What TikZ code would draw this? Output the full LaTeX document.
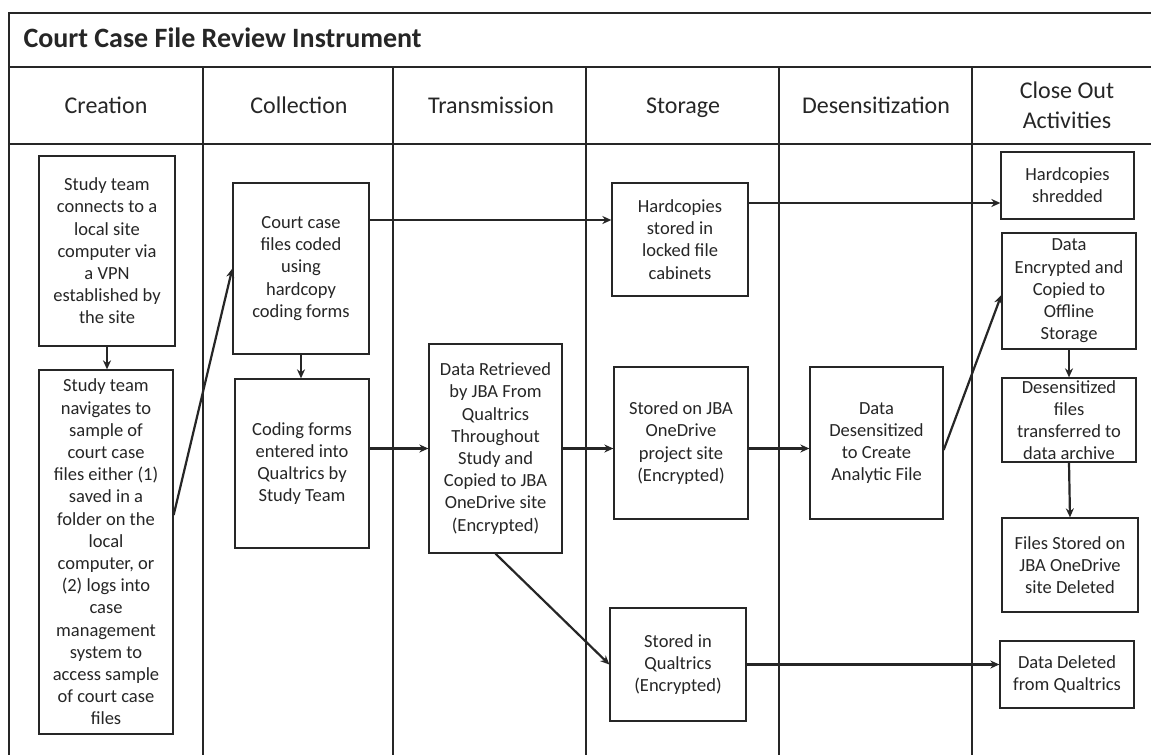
\documentclass[tikz,border=0pt]{standalone}
\usepackage{fontspec}
\setmainfont{Carlito}
\usetikzlibrary{arrows.meta,calc}
\begin{document}
\begin{tikzpicture}[x=1pt,y=-1pt,
  frame/.style={line width=1.4pt, black!85},
  box/.style={draw, line width=1.3pt, black!85, align=center, inner sep=0pt, font=\fontsize{18.5}{22.2}\selectfont},
  hdr/.style={align=center, anchor=base, text=black!85, font=\fontsize{24}{29.5}\selectfont},
  flow/.style={line width=2.2pt, black!85, -{Stealth[length=9pt,width=8pt]}}]
\useasboundingbox[fill=white] (0,0) rectangle (1151,755);

% table frame
\draw[frame] (1151,13) -- (9,13) -- (9,755);
\draw[frame] (9,67) -- (1151,67);
\draw[frame] (9,144) -- (1151,144);
\foreach \x in {203,393,586,779,972} \draw[frame] (\x,67) -- (\x,755);

% title and headers
\node[anchor=base west, text=black!85, font=\fontsize{28}{32}\selectfont\bfseries] (title) at (20,47) {Court Case File Review Instrument};
\node[hdr] (h1) at (106,113) {Creation};
\node[hdr] (h2) at (299,113) {Collection};
\node[hdr] (h3) at (491,113) {Transmission};
\node[hdr] (h4) at (683,113) {Storage};
\node[hdr] (h5) at (876,113) {Desensitization};
\node[hdr] (h6) at (1067,128) {Close Out\\Activities};

% boxes
\node[box, minimum width=136pt, minimum height=190pt] (cr1) at (107,251) {Study team\\connects to a\\local site\\computer via\\a VPN\\established by\\the site};
\node[box, minimum width=134pt, minimum height=364pt] (cr2) at (106,552) {Study team\\navigates to\\sample of\\court case\\files either (1)\\saved in a\\folder on the\\local\\computer, or\\(2) logs into\\case\\management\\system to\\access sample\\of court case\\files};
\node[box, minimum width=136pt, minimum height=171pt] (co1) at (301,268.5) {Court case\\files coded\\using\\hardcopy\\coding forms};
\node[box, minimum width=134pt, minimum height=169pt] (co2) at (302,463.5) {Coding forms\\entered into\\Qualtrics by\\Study Team};
\node[box, minimum width=133pt, minimum height=209pt] (tr1) at (495.5,448.5) {Data Retrieved\\by JBA From\\Qualtrics\\Throughout\\Study and\\Copied to JBA\\OneDrive site\\(Encrypted)};
\node[box, minimum width=136pt, minimum height=113pt] (st1) at (680,239.5) {Hardcopies\\stored in\\locked file\\cabinets};
\node[box, minimum width=134pt, minimum height=152pt] (st2) at (681,443) {Stored on JBA\\OneDrive\\project site\\(Encrypted)};
\node[box, minimum width=136pt, minimum height=113pt] (st3) at (678,664.5) {Stored in\\Qualtrics\\(Encrypted)};
\node[box, minimum width=133pt, minimum height=152pt] (de1) at (876.5,443) {Data\\Desensitized\\to Create\\Analytic File};
\node[box, minimum width=133pt, minimum height=67pt] (cl1) at (1067.5,185.5) {Hardcopies\\shredded};
\node[box, minimum width=134pt, minimum height=116pt] (cl2) at (1069,291) {Data\\Encrypted and\\Copied to\\Offline\\Storage};
\node[box, minimum width=134pt, minimum height=84pt] (cl3) at (1069,420) {Desensitized\\files\\transferred to\\data archive};
\node[box, minimum width=136pt, minimum height=94pt] (cl4) at (1070,565) {Files Stored on\\JBA OneDrive\\site Deleted};
\node[box, minimum width=134pt, minimum height=67pt] (cl5) at (1067,674.5) {Data Deleted\\from Qualtrics};

% connectors
\draw[flow] (cr1.south) -- (cr1.south |- cr2.north);
\draw[flow] ([yshift=37pt]cr2.east) -- (co1.west);
\draw[flow] (co1.south) -- (co1.south |- co2.north);
\coordinate (a1) at ([yshift=48.5pt]co1.east);
\draw[flow] (a1) -- (a1 -| st1.west);
\draw[flow] (co2.east |- tr1.west) -- (tr1.west);
\draw[flow] (tr1.east) -- (tr1.east -| st2.west);
\draw[flow] (tr1.south) -- (st3.west);
\coordinate (a2) at ([yshift=36.5pt]st1.east);
\draw[flow] (a2) -- (a2 -| cl1.west);
\draw[flow] (st2.east |- tr1.east) -- (de1.west |- tr1.east);
\draw[flow] ([yshift=-7pt]de1.east) -- ([yshift=-4pt]cl2.west);
\draw[flow] (cl2.south) -- (cl3.north);
\draw[flow] (cl3.south) -- (cl4.north);
\draw[flow] (st3.east) -- (st3.east -| cl5.west);
\end{tikzpicture}
\end{document}
